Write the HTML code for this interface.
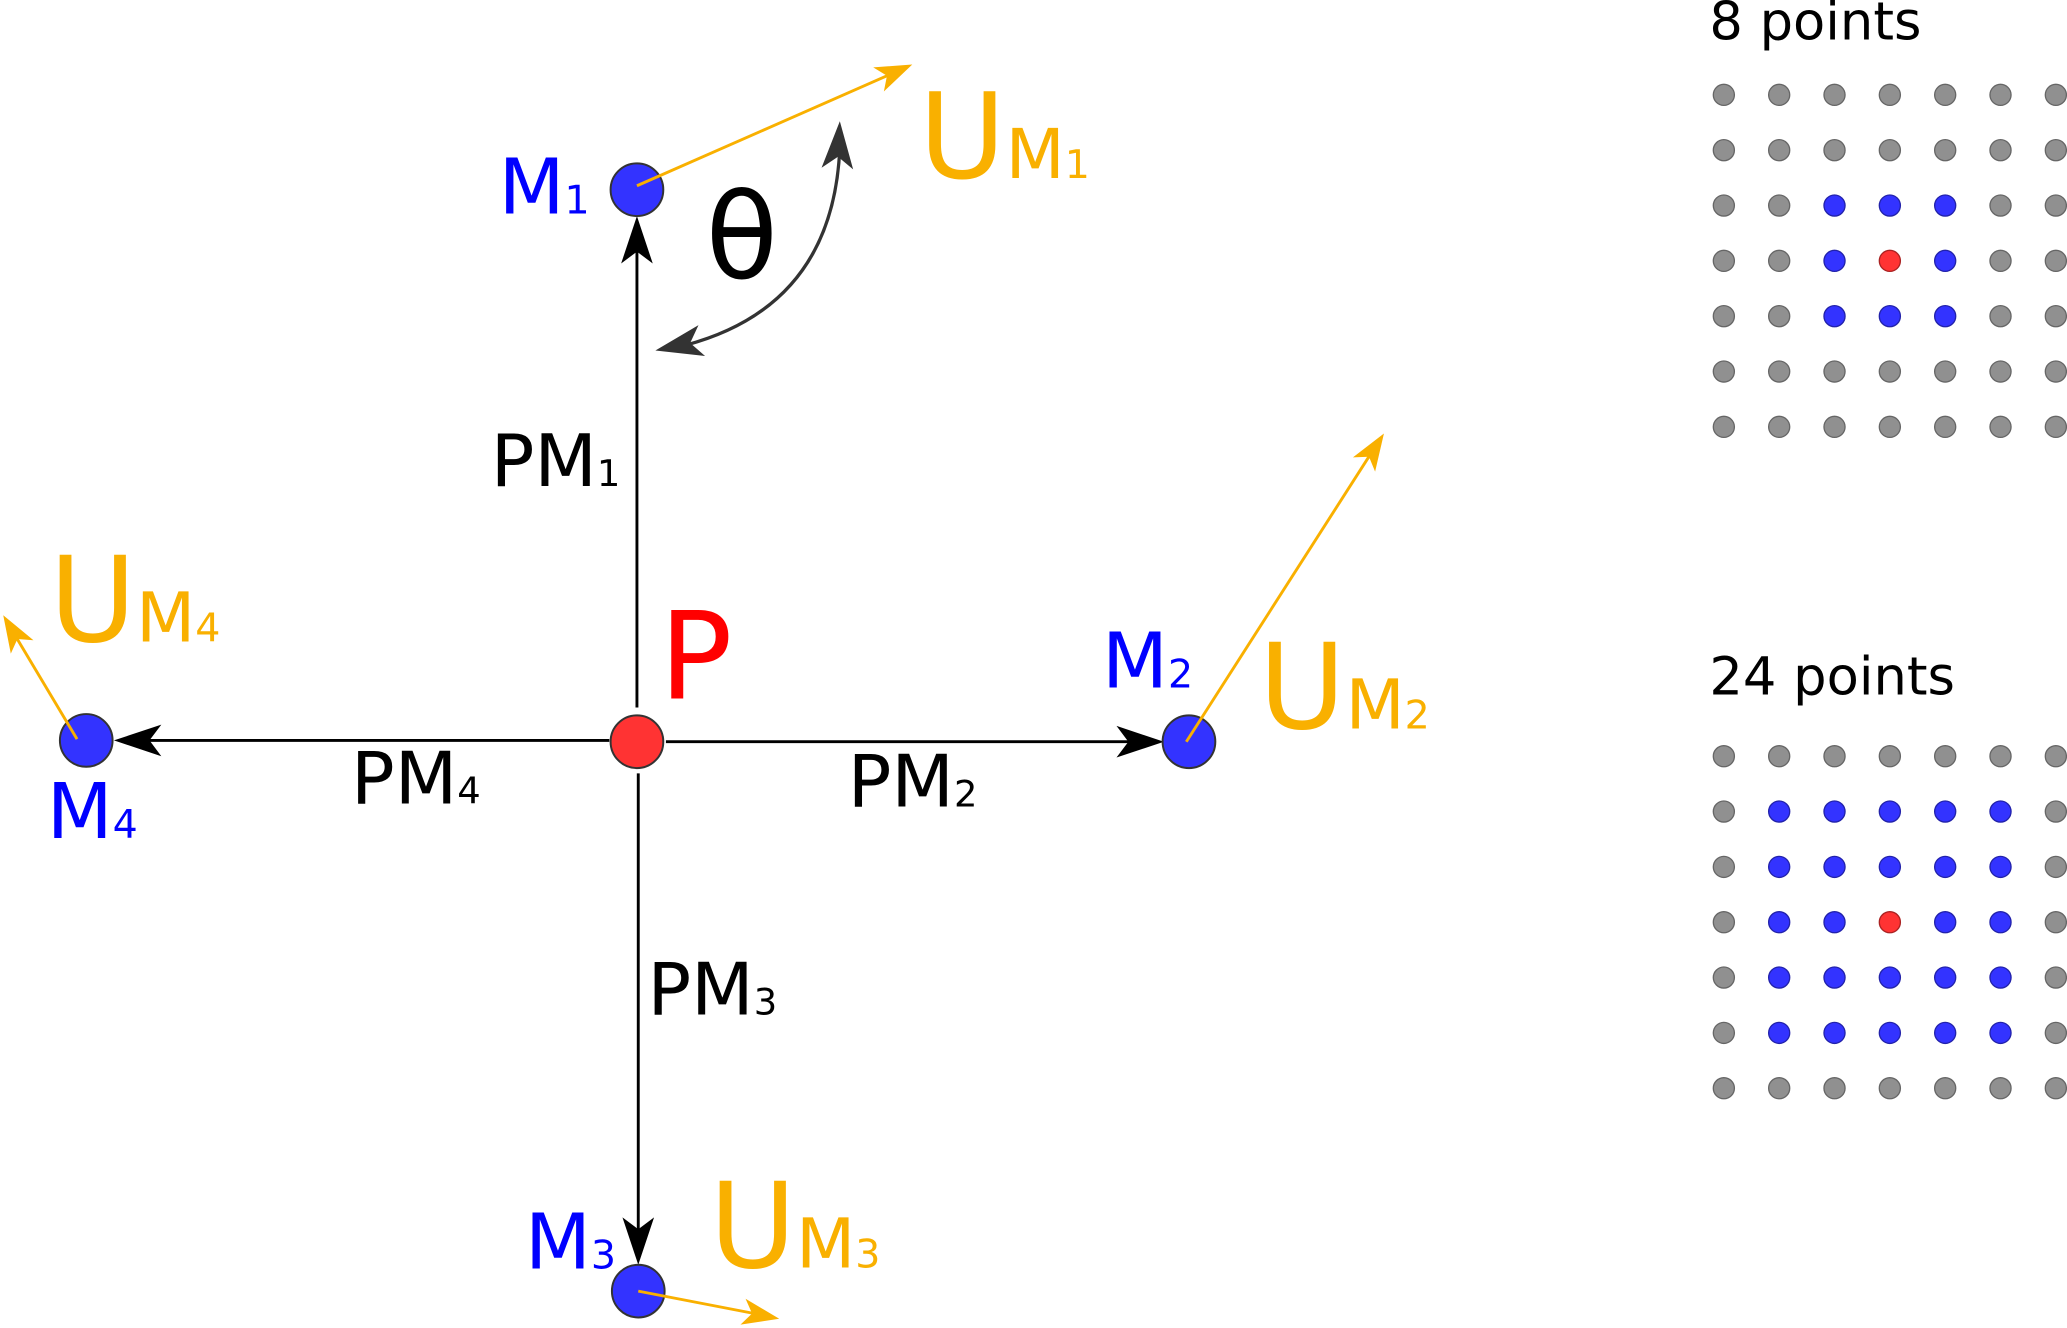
<!DOCTYPE html>
<html><head><meta charset="utf-8"><style>
html,body{margin:0;padding:0;background:#fff;}
svg{display:block;}
text{font-family:"DejaVu Sans","Liberation Sans",sans-serif;}
</style></head><body>
<svg width="2067" height="1328" viewBox="0 0 1568 1008" xmlns="http://www.w3.org/2000/svg">
<defs>
<path id="bh" d="M0,0 L-36,-12 L-27,0 L-36,12 Z"/>
<path id="oh" d="M0,0 L-28,-10 L-21,0 L-28,10 Z"/>
</defs>
<!-- black connectors -->
<g stroke="#000" stroke-width="2.2" fill="none">
<line x1="483" y1="537" x2="483" y2="175"/>
<line x1="505" y1="563" x2="872" y2="563"/>
<line x1="484" y1="587" x2="484" y2="950"/>
<line x1="462" y1="562" x2="96" y2="562"/>
</g>
<g fill="#000">
<use href="#bh" transform="translate(483,164) rotate(-90)"/>
<use href="#bh" transform="translate(883,563)"/>
<use href="#bh" transform="translate(484,960) rotate(90)"/>
<use href="#bh" transform="translate(86,562) rotate(180)"/>
</g>
<!-- theta arc -->
<path d="M520,262 Q632,232 637,112" stroke="#333" stroke-width="2.5" fill="none"/>
<g fill="#333">
<use href="#bh" transform="translate(497,266) rotate(168)"/>
<use href="#bh" transform="translate(637,92) rotate(-87)"/>
</g>
<!-- nodes -->
<g stroke="#333" stroke-width="1.5">
<circle cx="483" cy="144" r="20" fill="#3333ff"/>
<circle cx="902" cy="563" r="20" fill="#3333ff"/>
<circle cx="484" cy="980" r="20" fill="#3333ff"/>
<circle cx="65" cy="562" r="20" fill="#3333ff"/>
<circle cx="483" cy="563" r="20" fill="#ff3333"/>
</g>
<!-- orange vectors -->
<g stroke="#f9b000" stroke-width="2.2">
<line x1="483" y1="141" x2="674" y2="57"/>
<line x1="900" y1="563" x2="1039" y2="346"/>
<line x1="484" y1="980" x2="572" y2="997"/>
<line x1="58" y1="561" x2="12" y2="484"/>
</g>
<g fill="#f9b000">
<use href="#oh" transform="translate(692,49) rotate(-23.8)"/>
<use href="#oh" transform="translate(1050,329) rotate(-57.3)"/>
<use href="#oh" transform="translate(591,1001) rotate(11.1)"/>
<use href="#oh" transform="translate(2,467) rotate(-120.8)"/>
</g>
<!-- labels -->
<g fill="#0000ff" font-size="58">
<text x="378" y="162">M<tspan font-size="30">1</tspan></text>
<text x="836" y="522">M<tspan font-size="30">2</tspan></text>
<text x="398" y="963">M<tspan font-size="30">3</tspan></text>
<text x="35" y="636">M<tspan font-size="30">4</tspan></text>
</g>
<g fill="#f9b000">
<text x="697" y="135" font-size="90">U<tspan font-size="52">M</tspan><tspan font-size="30">1</tspan></text>
<text x="955" y="553" font-size="90">U<tspan font-size="52">M</tspan><tspan font-size="30">2</tspan></text>
<text x="538" y="962" font-size="90">U<tspan font-size="52">M</tspan><tspan font-size="30">3</tspan></text>
<text x="37" y="487" font-size="90">U<tspan font-size="52">M</tspan><tspan font-size="30">4</tspan></text>
</g>
<text x="500" y="530" font-size="92" fill="#ff0000">P</text>
<text x="535" y="211" font-size="90" fill="#000">θ</text>
<g fill="#000" font-size="55">
<text x="372" y="369">PM<tspan font-size="28">1</tspan></text>
<text x="643" y="612">PM<tspan font-size="28">2</tspan></text>
<text x="491" y="770">PM<tspan font-size="28">3</tspan></text>
<text x="266" y="610">PM<tspan font-size="28">4</tspan></text>
</g>
<text x="1297" y="30" font-size="40" fill="#000">8 points</text>
<text x="1297" y="527" font-size="40" fill="#000">24 points</text>
<g id="grids" stroke="#666" stroke-width="1">
<g fill="#909090">
<!-- top grid -->
<circle cx="1308" cy="72" r="8"/><circle cx="1350" cy="72" r="8"/><circle cx="1392" cy="72" r="8"/><circle cx="1434" cy="72" r="8"/><circle cx="1476" cy="72" r="8"/><circle cx="1518" cy="72" r="8"/><circle cx="1560" cy="72" r="8"/>
<circle cx="1308" cy="114" r="8"/><circle cx="1350" cy="114" r="8"/><circle cx="1392" cy="114" r="8"/><circle cx="1434" cy="114" r="8"/><circle cx="1476" cy="114" r="8"/><circle cx="1518" cy="114" r="8"/><circle cx="1560" cy="114" r="8"/>
<circle cx="1308" cy="156" r="8"/><circle cx="1350" cy="156" r="8"/><circle cx="1518" cy="156" r="8"/><circle cx="1560" cy="156" r="8"/>
<circle cx="1308" cy="198" r="8"/><circle cx="1350" cy="198" r="8"/><circle cx="1518" cy="198" r="8"/><circle cx="1560" cy="198" r="8"/>
<circle cx="1308" cy="240" r="8"/><circle cx="1350" cy="240" r="8"/><circle cx="1518" cy="240" r="8"/><circle cx="1560" cy="240" r="8"/>
<circle cx="1308" cy="282" r="8"/><circle cx="1350" cy="282" r="8"/><circle cx="1392" cy="282" r="8"/><circle cx="1434" cy="282" r="8"/><circle cx="1476" cy="282" r="8"/><circle cx="1518" cy="282" r="8"/><circle cx="1560" cy="282" r="8"/>
<circle cx="1308" cy="324" r="8"/><circle cx="1350" cy="324" r="8"/><circle cx="1392" cy="324" r="8"/><circle cx="1434" cy="324" r="8"/><circle cx="1476" cy="324" r="8"/><circle cx="1518" cy="324" r="8"/><circle cx="1560" cy="324" r="8"/>
<!-- bottom grid border -->
<circle cx="1308" cy="574" r="8"/><circle cx="1350" cy="574" r="8"/><circle cx="1392" cy="574" r="8"/><circle cx="1434" cy="574" r="8"/><circle cx="1476" cy="574" r="8"/><circle cx="1518" cy="574" r="8"/><circle cx="1560" cy="574" r="8"/>
<circle cx="1308" cy="616" r="8"/><circle cx="1560" cy="616" r="8"/>
<circle cx="1308" cy="658" r="8"/><circle cx="1560" cy="658" r="8"/>
<circle cx="1308" cy="700" r="8"/><circle cx="1560" cy="700" r="8"/>
<circle cx="1308" cy="742" r="8"/><circle cx="1560" cy="742" r="8"/>
<circle cx="1308" cy="784" r="8"/><circle cx="1560" cy="784" r="8"/>
<circle cx="1308" cy="826" r="8"/><circle cx="1350" cy="826" r="8"/><circle cx="1392" cy="826" r="8"/><circle cx="1434" cy="826" r="8"/><circle cx="1476" cy="826" r="8"/><circle cx="1518" cy="826" r="8"/><circle cx="1560" cy="826" r="8"/>
</g>
<g fill="#3333ff" stroke="#2222aa">
<circle cx="1392" cy="156" r="8"/><circle cx="1434" cy="156" r="8"/><circle cx="1476" cy="156" r="8"/>
<circle cx="1392" cy="198" r="8"/><circle cx="1476" cy="198" r="8"/>
<circle cx="1392" cy="240" r="8"/><circle cx="1434" cy="240" r="8"/><circle cx="1476" cy="240" r="8"/>
<circle cx="1350" cy="616" r="8"/><circle cx="1392" cy="616" r="8"/><circle cx="1434" cy="616" r="8"/><circle cx="1476" cy="616" r="8"/><circle cx="1518" cy="616" r="8"/>
<circle cx="1350" cy="658" r="8"/><circle cx="1392" cy="658" r="8"/><circle cx="1434" cy="658" r="8"/><circle cx="1476" cy="658" r="8"/><circle cx="1518" cy="658" r="8"/>
<circle cx="1350" cy="700" r="8"/><circle cx="1392" cy="700" r="8"/><circle cx="1476" cy="700" r="8"/><circle cx="1518" cy="700" r="8"/>
<circle cx="1350" cy="742" r="8"/><circle cx="1392" cy="742" r="8"/><circle cx="1434" cy="742" r="8"/><circle cx="1476" cy="742" r="8"/><circle cx="1518" cy="742" r="8"/>
<circle cx="1350" cy="784" r="8"/><circle cx="1392" cy="784" r="8"/><circle cx="1434" cy="784" r="8"/><circle cx="1476" cy="784" r="8"/><circle cx="1518" cy="784" r="8"/>
</g>
<g fill="#ff3333" stroke="#aa2222">
<circle cx="1434" cy="198" r="8"/>
<circle cx="1434" cy="700" r="8"/>
</g>
</g>
</svg>
</body></html>
